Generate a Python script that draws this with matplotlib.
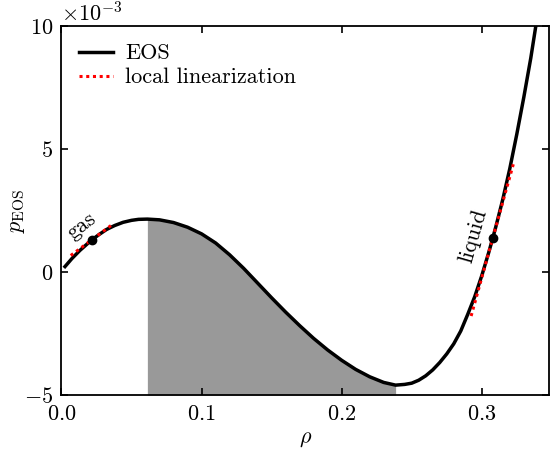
import matplotlib
matplotlib.use('Agg')
import matplotlib.pyplot as plt
import numpy as np

plt.rcParams['font.family'] = 'serif'
plt.rcParams['font.serif'] = ['cmr10']
plt.rcParams['mathtext.fontset'] = 'cm'
plt.rcParams['axes.formatter.use_mathtext'] = True
plt.rcParams['axes.unicode_minus'] = False
plt.rcParams['font.size'] = 16

# equation of state, pressure in units of 1e-3
rho = [0.0025, 0.0075, 0.0132, 0.0215, 0.027, 0.0322, 0.038, 0.044,
       0.050, 0.055, 0.0613, 0.07, 0.08, 0.09, 0.10, 0.11, 0.12, 0.13,
       0.14, 0.15, 0.16, 0.17, 0.18, 0.19, 0.20, 0.21, 0.22, 0.23,
       0.2385, 0.245, 0.25, 0.255, 0.26, 0.265, 0.27, 0.275, 0.28,
       0.285, 0.29, 0.295, 0.30, 0.305, 0.3078, 0.31, 0.315, 0.32,
       0.325, 0.33, 0.335, 0.3385, 0.34]
p_eos = [0.22, 0.55, 0.88, 1.30, 1.53, 1.73, 1.89, 2.02,
         2.10, 2.14, 2.15, 2.12, 2.01, 1.82, 1.55, 1.18, 0.70, 0.15,
         -0.45, -1.05, -1.63, -2.18, -2.70, -3.17, -3.59, -3.96, -4.26, -4.49,
         -4.60, -4.57, -4.52, -4.40, -4.22, -3.98, -3.68, -3.33, -2.92,
         -2.40, -1.72, -1.00, -0.15, 0.80, 1.37, 1.83, 2.95, 4.20,
         5.60, 7.10, 8.70, 9.97, 10.5]

# spinodal region (between local max and min of the EOS)
rho_spin = [0.0613, 0.2385]

# linearization points and their tangent segments
rho_gas, p_gas = 0.0215, 1.30
rho_liq, p_liq = 0.3078, 1.37
gas_lin_rho = [0.0066, 0.0365]
gas_lin_p = [0.67, 1.94]
liq_lin_rho = [0.2924, 0.3225]
liq_lin_p = [-1.79, 4.38]

scale = 1e-3
rho = np.array(rho)
p = np.array(p_eos) * scale

fig = plt.figure(figsize=(5.5, 4.54), dpi=100)
ax = fig.add_axes([0.1118, 0.130, 0.8864, 0.8127])

mask = (rho >= rho_spin[0]) & (rho <= rho_spin[1])
ax.fill_between(rho[mask], p[mask], -5 * scale, color='#999999', lw=0)
ax.plot(rho, p, color='black', lw=2.5, label='EOS', zorder=3,
        solid_joinstyle='round')
ax.plot(gas_lin_rho, np.array(gas_lin_p) * scale, color='red', lw=2.2,
        ls=(0, (1, 1.2)), label='local linearization', zorder=4)
ax.plot(liq_lin_rho, np.array(liq_lin_p) * scale, color='red', lw=2.2,
        ls=(0, (1, 1.2)), zorder=4)
ax.plot([rho_gas, rho_liq], [p_gas * scale, p_liq * scale], 'o',
        color='black', ms=6, zorder=5)

ax.text(0.0146, 1.87 * scale, 'gas', rotation=38, ha='center', va='center')
ax.text(0.294, 1.46 * scale, 'liquid', rotation=74, ha='center', va='center')

ax.set_xlim(0, 0.348)
ax.set_ylim(-5 * scale, 10 * scale)
ax.set_xticks([0, 0.1, 0.2, 0.3])
ax.set_yticks([-5e-3, 0, 5e-3, 10e-3])
ax.ticklabel_format(axis='y', style='sci', scilimits=(-3, -3))
ax.tick_params(direction='in', top=True, right=True, length=5, width=1.2)
ax.tick_params(axis='x', pad=7)
ax.tick_params(axis='y', pad=6)
for s in ax.spines.values():
    s.set_linewidth(1.3)

ax.set_xlabel(r'$\rho$', labelpad=4)
ax.set_ylabel(r'$p_{\mathrm{EOS}}$', labelpad=-2)
ax.legend(loc='upper left', frameon=False, handlelength=1.5,
          handletextpad=0.55, labelspacing=0.2, borderaxespad=0.4)

fig.savefig('out.png', dpi=100)
